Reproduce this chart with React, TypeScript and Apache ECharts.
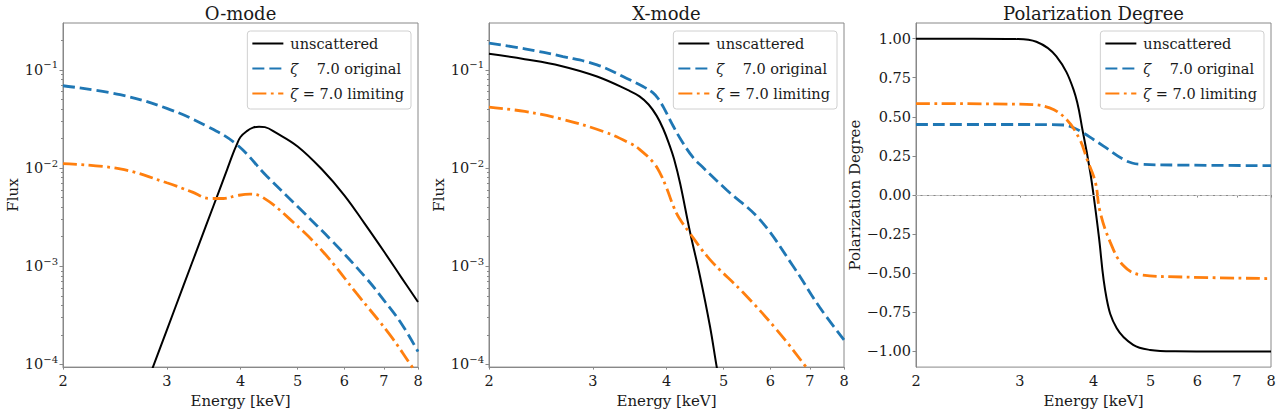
import React, { useEffect, useRef } from "react";
import * as echarts from "echarts";

const FONT = '"DejaVu Serif", "Liberation Serif", serif';
const TEXT = "#1a1a1a";
const SPINE = "#888888";

const TITLES = ["O-mode", "X-mode", "Polarization Degree"];
const SERIES_NAMES = ["unscattered", "ζ\u00a0\u00a0\u00a0\u00a07.0 original", "ζ = 7.0 limiting"];
const X_TICKS = [2, 3, 4, 5, 6, 7, 8];
const FLUX_MAJOR = [1e-4, 1e-3, 1e-2, 1e-1];
const FLUX_MINOR = [
  2e-4, 3e-4, 4e-4, 5e-4, 6e-4, 7e-4, 8e-4, 9e-4,
  2e-3, 3e-3, 4e-3, 5e-3, 6e-3, 7e-3, 8e-3, 9e-3,
  2e-2, 3e-2, 4e-2, 5e-2, 6e-2, 7e-2, 8e-2, 9e-2,
  2e-1,
];
const POL_TICKS = [-1, -0.75, -0.5, -0.25, 0, 0.25, 0.5, 0.75, 1];

// ---- O-mode flux ----
const O_UNSC_E = [2.8, 3.0, 3.2, 3.4, 3.6, 3.8, 3.88, 3.94, 4.0, 4.1, 4.2, 4.3, 4.4, 4.6, 5.0, 5.5, 6.0, 6.5, 7.0, 7.5, 8.0];
const O_UNSC_F = [7.43e-5, 2.24e-4, 6.31e-4, 1.66e-3, 4.13e-3, 9.82e-3, 1.377e-2, 1.72e-2, 2.07e-2, 2.38e-2, 2.58e-2, 2.64e-2, 2.61e-2, 2.28e-2, 1.66e-2, 9.66e-3, 5.28e-3, 2.7e-3, 1.42e-3, 7.67e-4, 4.33e-4];
const O_ORIG_E = [2.0, 2.5, 3.0, 3.5, 3.94, 4.43, 5.05, 5.75, 6.55, 7.0, 7.5, 8.0];
const O_ORIG_F = [0.0689, 0.0558, 0.0405, 0.0269, 0.0174, 8.3e-3, 3.82e-3, 1.75e-3, 7.45e-4, 4.52e-4, 2.6e-4, 1.35e-4];
const O_LIM_E = [2.0, 2.5, 3.0, 3.3, 3.55, 3.74, 3.95, 4.15, 4.37, 4.85, 5.53, 6.3, 7.17, 7.78, 8.0];
const O_LIM_F = [0.0111, 0.0098, 7.08e-3, 5.75e-3, 4.9e-3, 4.9e-3, 5.25e-3, 5.42e-3, 5.0e-3, 3.02e-3, 1.39e-3, 5.25e-4, 2.0e-4, 9.86e-5, 7.8e-5];

// ---- X-mode flux ----
const X_UNSC_E = [2.0, 2.3, 2.65, 3.05, 3.45, 3.6, 3.73, 3.85, 3.95, 4.05, 4.12, 4.22, 4.38, 4.56, 4.74, 4.87, 4.95];
const X_UNSC_F = [0.1455, 0.1285, 0.1096, 0.0855, 0.0617, 0.0537, 0.0444, 0.034, 0.025, 0.01694, 0.01236, 6.92e-3, 2.3e-3, 7.88e-4, 2.45e-4, 9.2e-5, 5.4e-5];
const X_ORIG_E = [2.0, 2.3, 2.67, 3.05, 3.42, 3.65, 3.8, 3.88, 3.95, 4.11, 4.25, 4.44, 4.6, 5.06, 5.76, 6.56, 7.28, 8.0];
const X_ORIG_F = [0.187, 0.1637, 0.1365, 0.1125, 0.0822, 0.0676, 0.0579, 0.0501, 0.0419, 0.0265, 0.01866, 0.01274, 0.0103, 5.98e-3, 2.98e-3, 1.0e-3, 3.8e-4, 1.78e-4];
const X_LIM_E = [2.0, 2.3, 2.65, 3.13, 3.47, 3.6, 3.8, 3.9, 4.0, 4.11, 4.2, 4.38, 4.74, 5.4, 6.15, 6.92, 7.1];
const X_LIM_F = [0.0417, 0.0377, 0.0316, 0.0235, 0.01786, 0.01552, 0.01138, 8.9e-3, 6.31e-3, 4.07e-3, 3.12e-3, 2.18e-3, 1.17e-3, 5.37e-4, 2.26e-4, 9.2e-5, 7.4e-5];

// ---- Polarization degree ----
const P_UNSC_E = [2.0, 2.5, 2.96, 3.2, 3.46, 3.7, 3.84, 3.95, 4.03, 4.08, 4.21, 4.38, 4.67, 4.99, 5.5, 6.5, 8.0];
const P_UNSC_V = [1.0, 1.0, 0.998, 0.98, 0.886, 0.674, 0.398, 0.144, -0.09, -0.25, -0.661, -0.852, -0.958, -0.99, -0.999, -1.0, -1.0];
const P_ORIG_E = [2.0, 3.0, 3.56, 3.7, 3.84, 4.0, 4.16, 4.49, 4.65, 4.8, 5.5, 8.0];
const P_ORIG_V = [0.451, 0.451, 0.448, 0.43, 0.398, 0.355, 0.313, 0.229, 0.205, 0.197, 0.192, 0.188];
const P_LIM_E = [2.0, 3.08, 3.37, 3.6, 3.79, 3.9, 4.03, 4.1, 4.27, 4.49, 4.8, 5.68, 8.0];
const P_LIM_V = [0.585, 0.58, 0.557, 0.483, 0.356, 0.229, 0.081, -0.1, -0.301, -0.449, -0.509, -0.524, -0.534];

const GRIDS = [
  { left: 63, top: 23, width: 355, height: 345 },
  { left: 489, top: 23, width: 355, height: 345 },
  { left: 916, top: 23, width: 355, height: 345 },
];

const STYLES = [
  { color: "#000000", width: 2, type: "solid" as any },
  { color: "#1f77b4", width: 2.8, type: [12, 5] as any },
  { color: "#ff7f0e", width: 2.8, type: [14, 4.5, 2.8, 4.5] as any },
];

const lg = Math.log10;
const FLUX_MIN = 9.4e-5;
const FLUX_MAX = 0.3;

function pairs(E: number[], V: number[], logY: boolean) {
  return E.map((e, i) => [lg(e), logY ? lg(V[i]) : V[i]]);
}

function buildOption() {
  const panels = [
    { logY: true, data: [[O_UNSC_E, O_UNSC_F], [O_ORIG_E, O_ORIG_F], [O_LIM_E, O_LIM_F]] },
    { logY: true, data: [[X_UNSC_E, X_UNSC_F], [X_ORIG_E, X_ORIG_F], [X_LIM_E, X_LIM_F]] },
    { logY: false, data: [[P_UNSC_E, P_UNSC_V], [P_ORIG_E, P_ORIG_V], [P_LIM_E, P_LIM_V]] },
  ];

  const labelBase = { fontFamily: FONT, fontSize: 14.5, color: TEXT };

  const xAxis = GRIDS.map((_, p) => ({
    type: "value",
    gridIndex: p,
    min: lg(2),
    max: lg(8),
    name: "Energy [keV]",
    nameLocation: "middle",
    nameGap: 22,
    nameTextStyle: { fontFamily: FONT, fontSize: 15, color: TEXT },
    axisLine: { show: true, lineStyle: { color: SPINE, width: 1 } },
    axisTick: { show: true, length: 2.5, customValues: X_TICKS.map(lg), lineStyle: { color: SPINE } },
    axisLabel: {
      ...labelBase,
      margin: 6,
      customValues: X_TICKS.map(lg),
      formatter: (v: number) => String(Math.round(Math.pow(10, v))),
    },
    splitLine: { show: false },
  }));

  const richExp = {
    b: { fontFamily: FONT, fontSize: 14.5, color: TEXT, lineHeight: 20, verticalAlign: "middle" },
    e: { fontFamily: FONT, fontSize: 10, color: TEXT, lineHeight: 10, verticalAlign: "top" },
  };

  const yAxis: any[] = [];
  [0, 1].forEach((p) => {
    yAxis.push({
      type: "value",
      gridIndex: p,
      position: "left",
      min: lg(FLUX_MIN),
      max: lg(FLUX_MAX),
      name: "Flux",
      nameLocation: "middle",
      nameGap: 40,
      nameTextStyle: { fontFamily: FONT, fontSize: 15, color: TEXT },
      axisLine: { show: true, lineStyle: { color: SPINE, width: 1 } },
      axisTick: { show: true, length: 3.5, customValues: FLUX_MAJOR.map(lg), lineStyle: { color: SPINE } },
      axisLabel: {
        fontFamily: FONT,
        margin: 5,
        customValues: FLUX_MAJOR.map(lg),
        formatter: (v: number) => `{b|10}{e|\u2212${Math.abs(Math.round(v))}}`,
        rich: richExp,
      },
      splitLine: { show: false },
    });
    yAxis.push({
      type: "value",
      gridIndex: p,
      position: "left",
      min: lg(FLUX_MIN),
      max: lg(FLUX_MAX),
      axisLine: { show: false },
      axisTick: { show: true, length: 2, customValues: FLUX_MINOR.map(lg), lineStyle: { color: SPINE } },
      axisLabel: { show: false },
      splitLine: { show: false },
    });
  });
  yAxis.push({
    type: "value",
    gridIndex: 2,
    position: "left",
    min: -1.1,
    max: 1.1,
    name: "Polarization Degree",
    nameLocation: "middle",
    nameGap: 53,
    nameTextStyle: { fontFamily: FONT, fontSize: 15, color: TEXT },
    axisLine: { show: true, lineStyle: { color: SPINE, width: 1 } },
    axisTick: { show: true, length: 3.5, customValues: POL_TICKS, lineStyle: { color: SPINE } },
    axisLabel: {
      ...labelBase,
      margin: 5,
      customValues: POL_TICKS,
      formatter: (v: number) => (v < -1e-9 ? "\u2212" : "") + Math.abs(v).toFixed(2),
    },
    splitLine: { show: false },
  });

  const yIdx = [0, 2, 4];
  const series: any[] = [];
  panels.forEach((pan, p) => {
    pan.data.forEach(([E, V], i) => {
      const st = STYLES[i];
      const s: any = {
        type: "line",
        name: SERIES_NAMES[i],
        xAxisIndex: p,
        yAxisIndex: yIdx[p],
        data: pairs(E, V, pan.logY),
        symbol: "none",
        showSymbol: false,
        smooth: 0.4,
        clip: true,
        color: st.color,
        itemStyle: { color: st.color },
        lineStyle: { color: st.color, width: st.width, type: st.type },
        emphasis: { disabled: true },
      };
      if (p === 2 && i === 0) {
        s.markLine = {
          silent: true,
          symbol: ["none", "none"],
          label: { show: false },
          lineStyle: { color: "#c4c4c4", type: [4.5, 2], width: 1 },
          emphasis: { disabled: true },
          data: [{ yAxis: 0 }],
        };
      }
      series.push(s);
    });
  });

  const legend = GRIDS.map((g) => ({
    orient: "vertical",
    right: 1280 - (g.left + g.width) + 7,
    top: 31,
    itemWidth: 31,
    itemHeight: 14,
    itemGap: 10,
    padding: [5, 7, 8, 4],
    borderColor: "#d0d0d0",
    borderWidth: 1,
    borderRadius: 3,
    backgroundColor: "rgba(255,255,255,0.85)",
    selectedMode: false,
    data: SERIES_NAMES,
    itemStyle: { opacity: 0 },
    formatter: (name: string) => (name.charAt(0) === "ζ" ? "{i|ζ}" + name.slice(1) : name),
    textStyle: {
      fontFamily: FONT,
      fontSize: 14.5,
      color: TEXT,
      padding: [0, 0, 0, 2],
      rich: { i: { fontFamily: FONT, fontSize: 14.5, fontStyle: "italic", color: TEXT } },
    },
  }));

  const graphic = TITLES.map((t, p) => ({
    type: "text",
    x: GRIDS[p].left + GRIDS[p].width / 2,
    y: 13,
    silent: true,
    style: {
      text: t,
      font: `18px ${FONT}`,
      fill: TEXT,
      align: "center",
      verticalAlign: "middle",
    },
  }));

  return {
    animation: false,
    backgroundColor: "#ffffff",
    textStyle: { fontFamily: FONT },
    grid: GRIDS.map((g) => ({ ...g, show: true, borderColor: SPINE, borderWidth: 1, backgroundColor: "transparent", containLabel: false })),
    xAxis,
    yAxis,
    legend,
    series,
    graphic,
  };
}

export default function App() {
  const ref = useRef<HTMLDivElement>(null);
  useEffect(() => {
    if (!ref.current) return;
    const chart = echarts.init(ref.current, undefined, { renderer: "svg" });
    chart.setOption(buildOption() as any);
    return () => {
      chart.dispose();
    };
  }, []);
  return (
    <div
      ref={ref}
      style={{ position: "fixed", left: 0, top: 0, width: 1280, height: 413, background: "#fff" }}
    />
  );
}
